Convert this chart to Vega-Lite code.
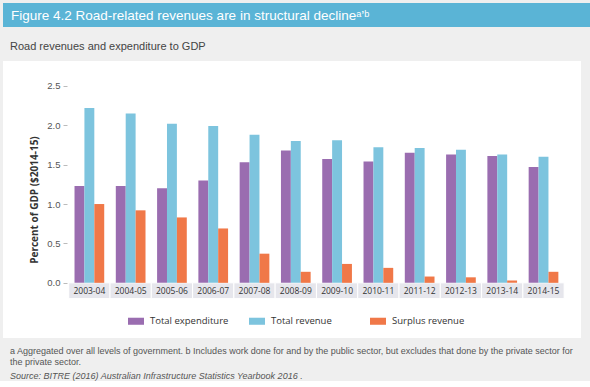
{
  "$schema": "https://vega.github.io/schema/vega-lite/v6.json",
  "background": "#efefef",
  "padding": {"left": 3, "top": 3, "right": 0, "bottom": 0},
  "spacing": 34,
  "bounds": "flush",
  "config": {"view": {"stroke": null}, "font": "Liberation Sans"},
  "datasets": {
    "years": [
      {"year": "2003-04"}, {"year": "2004-05"}, {"year": "2005-06"}, {"year": "2006-07"},
      {"year": "2007-08"}, {"year": "2008-09"}, {"year": "2009-10"}, {"year": "2010-11"},
      {"year": "2011-12"}, {"year": "2012-13"}, {"year": "2013-14"}, {"year": "2014-15"}
    ],
    "road": [
      {"year": "2003-04", "series": "Total expenditure", "value": 1.23},
      {"year": "2003-04", "series": "Total revenue", "value": 2.22},
      {"year": "2003-04", "series": "Surplus revenue", "value": 1.00},
      {"year": "2004-05", "series": "Total expenditure", "value": 1.23},
      {"year": "2004-05", "series": "Total revenue", "value": 2.15},
      {"year": "2004-05", "series": "Surplus revenue", "value": 0.92},
      {"year": "2005-06", "series": "Total expenditure", "value": 1.20},
      {"year": "2005-06", "series": "Total revenue", "value": 2.02},
      {"year": "2005-06", "series": "Surplus revenue", "value": 0.83},
      {"year": "2006-07", "series": "Total expenditure", "value": 1.30},
      {"year": "2006-07", "series": "Total revenue", "value": 1.99},
      {"year": "2006-07", "series": "Surplus revenue", "value": 0.69},
      {"year": "2007-08", "series": "Total expenditure", "value": 1.53},
      {"year": "2007-08", "series": "Total revenue", "value": 1.88},
      {"year": "2007-08", "series": "Surplus revenue", "value": 0.37},
      {"year": "2008-09", "series": "Total expenditure", "value": 1.68},
      {"year": "2008-09", "series": "Total revenue", "value": 1.80},
      {"year": "2008-09", "series": "Surplus revenue", "value": 0.14},
      {"year": "2009-10", "series": "Total expenditure", "value": 1.57},
      {"year": "2009-10", "series": "Total revenue", "value": 1.81},
      {"year": "2009-10", "series": "Surplus revenue", "value": 0.24},
      {"year": "2010-11", "series": "Total expenditure", "value": 1.54},
      {"year": "2010-11", "series": "Total revenue", "value": 1.72},
      {"year": "2010-11", "series": "Surplus revenue", "value": 0.19},
      {"year": "2011-12", "series": "Total expenditure", "value": 1.65},
      {"year": "2011-12", "series": "Total revenue", "value": 1.71},
      {"year": "2011-12", "series": "Surplus revenue", "value": 0.08},
      {"year": "2012-13", "series": "Total expenditure", "value": 1.63},
      {"year": "2012-13", "series": "Total revenue", "value": 1.69},
      {"year": "2012-13", "series": "Surplus revenue", "value": 0.07},
      {"year": "2013-14", "series": "Total expenditure", "value": 1.61},
      {"year": "2013-14", "series": "Total revenue", "value": 1.63},
      {"year": "2013-14", "series": "Surplus revenue", "value": 0.03},
      {"year": "2014-15", "series": "Total expenditure", "value": 1.47},
      {"year": "2014-15", "series": "Total revenue", "value": 1.60},
      {"year": "2014-15", "series": "Surplus revenue", "value": 0.14}
    ]
  },
  "vconcat": [
    {
      "width": 587,
      "height": 24,
      "view": {"fill": "#5ab4d6", "stroke": null},
      "title": {
        "text": "Figure 4.2 Road-related revenues are in structural decline\u1d43\u2019\u1d47",
        "orient": "top",
        "anchor": "start",
        "frame": "group",
        "offset": -19,
        "dx": 8,
        "font": "Liberation Sans",
        "fontSize": 13.5,
        "fontWeight": "normal",
        "color": "#ffffff"
      },
      "data": {"values": []},
      "mark": {"type": "rect", "opacity": 0},
      "encoding": {}
    },
    {
      "width": 578,
      "height": 277,
      "view": {"fill": "#ffffff", "stroke": null},
      "title": {
        "text": "Road revenues and expenditure to GDP",
        "anchor": "start",
        "frame": "group",
        "offset": 9,
        "dx": 7,
        "font": "Liberation Sans",
        "fontSize": 11,
        "fontWeight": "normal",
        "color": "#444444"
      },
      "layer": [
        {
          "data": {"name": "years"},
          "mark": {"type": "rect", "fill": "#e6e6ec", "stroke": "#ffffff", "strokeWidth": 1},
          "encoding": {
            "x": {"field": "year", "type": "nominal", "axis": null,
                  "scale": {"paddingInner": 0, "paddingOuter": 1.15, "align": 0.796}},
            "y": {"datum": 0, "type": "quantitative",
                  "scale": {"domain": [-0.7, 2.815], "nice": false, "zero": false},
                  "axis": {
                    "values": [0, 0.5, 1, 1.5, 2, 2.5],
                    "format": ".1f",
                    "offset": -64,
                    "domain": false,
                    "grid": false,
                    "ticks": true,
                    "tickColor": "#bbbbbb",
                    "tickSize": 4,
                    "labelPadding": 3,
                    "labelFont": "Liberation Sans",
                    "labelFontSize": 9.5,
                    "labelColor": "#555555",
                    "title": "Percent of GDP ($2014-15)",
                    "titleFont": "Open Sans",
                    "titleFontSize": 10,
                    "titleFontWeight": "bold",
                    "titleColor": "#333333",
                    "titlePadding": 7
                  }},
            "y2": {"datum": -0.2}
          }
        },
        {
          "data": {"name": "years"},
          "mark": {"type": "text", "font": "Open Sans", "fontSize": 8.5, "fill": "#333333", "baseline": "middle"},
          "encoding": {
            "x": {"field": "year", "type": "nominal"},
            "y": {"datum": -0.1, "type": "quantitative"},
            "text": {"field": "year"}
          }
        },
        {
          "data": {"name": "road"},
          "mark": {"type": "bar"},
          "encoding": {
            "x": {"field": "year", "type": "nominal"},
            "xOffset": {"field": "series", "type": "nominal",
                        "scale": {"domain": ["Total expenditure", "Total revenue", "Surplus revenue"], "paddingInner": 0, "paddingOuter": 0.585}},
            "y": {"field": "value", "type": "quantitative"},
            "color": {"field": "series", "type": "nominal",
                      "scale": {"domain": ["Total expenditure", "Total revenue", "Surplus revenue"],
                                "range": ["#9a6db0", "#7dc4de", "#f07848"]},
                      "legend": {
                        "title": null,
                        "orient": "none",
                        "legendX": 125,
                        "legendY": 310,
                        "direction": "horizontal",
                        "columns": 3,
                        "gridAlign": "all",
                        "columnPadding": 20,
                        "padding": 0,
                        "symbolType": "M-1,-0.44H1V0.44H-1Z",
                        "symbolSize": 256,
                        "symbolStrokeWidth": 0,
                        "symbolOpacity": 1,
                        "labelOffset": 6,
                        "labelFont": "Open Sans",
                        "labelFontSize": 9.5,
                        "labelColor": "#333333"
                      }}
          }
        }
      ]
    },
    {
      "width": 578,
      "height": 1,
      "title": {
        "text": [
          "a Aggregated over all levels of government. b Includes work done for and by the public sector, but excludes that done by the private sector for",
          "the private sector."
        ],
        "subtitle": "Source: BITRE (2016) Australian Infrastructure Statistics Yearbook 2016 .",
        "orient": "top",
        "anchor": "start",
        "frame": "group",
        "offset": -9,
        "dx": 7,
        "font": "Liberation Sans",
        "fontSize": 9,
        "fontWeight": "normal",
        "lineHeight": 11.5,
        "color": "#555555",
        "subtitleFont": "Liberation Sans",
        "subtitleFontSize": 9,
        "subtitleFontStyle": "italic",
        "subtitleColor": "#555555",
        "subtitlePadding": 5
      },
      "data": {"values": []},
      "mark": {"type": "rect", "opacity": 0},
      "encoding": {}
    }
  ]
}
